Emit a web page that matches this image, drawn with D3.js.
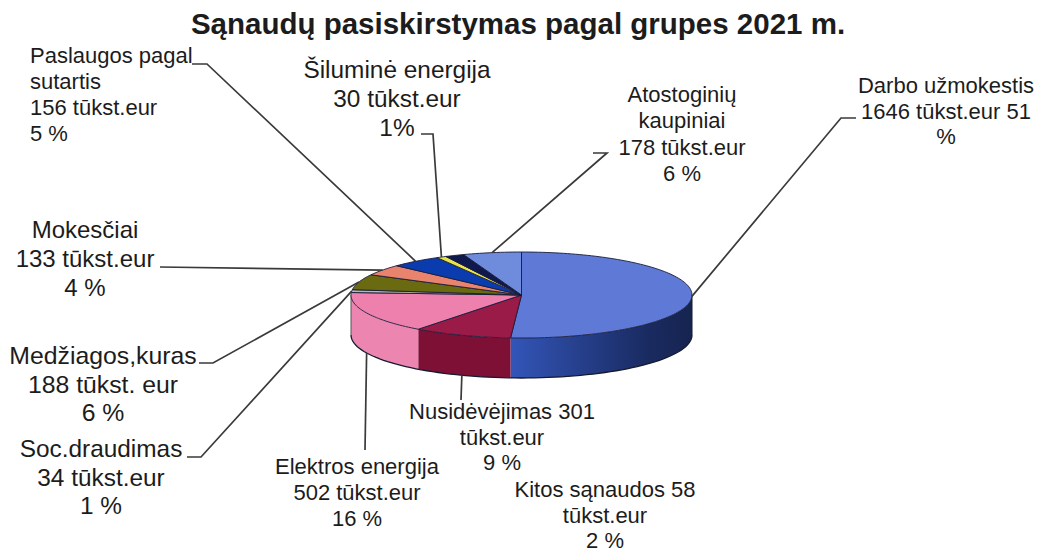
<!DOCTYPE html>
<html><head><meta charset="utf-8">
<script src="https://cdn.jsdelivr.net/npm/d3@7"></script>
<style>html,body{margin:0;padding:0;background:#fff}svg{display:block}text{font-family:"Liberation Sans",Arial,sans-serif;fill:#1c1c1c}</style>
</head><body><svg id="c" width="1048" height="554"></svg>
<script>
const chartTitle = "Sąnaudų pasiskirstymas pagal grupes 2021 m.";
const categories = ["Darbo užmokestis","Nusidėvėjimas","Elektros energija","Soc.draudimas","Medžiagos,kuras","Mokesčiai","Paslaugos pagal sutartis","Šiluminė energija","Kitos sąnaudos","Atostoginių kaupiniai"];
const values = [1646,301,502,34,188,133,156,30,58,178];
const topColors = ["#5f7ad6","#9a1a48","#ee80ae","#b9b9a8","#6a6a10","#e8836e","#0a3cb0","#e6e64a","#10194e","#6f8cdc"];
const wallColors = ["url(#wallBlue)","#7e1036","#ec86b0","#b9b9a8","#55550c","#c86a58","#082c80","#b8b83a","#0a1236","#4a62a8"];
const labelLines = [
 ["Darbo užmokestis","1646 tūkst.eur 51","%"],
 ["Nusidėvėjimas 301","tūkst.eur","9 %"],
 ["Elektros energija","502 tūkst.eur","16 %"],
 ["Soc.draudimas","34 tūkst.eur","1 %"],
 ["Medžiagos,kuras","188 tūkst. eur","6 %"],
 ["Mokesčiai","133 tūkst.eur","4 %"],
 ["Paslaugos pagal","sutartis","156 tūkst.eur","5 %"],
 ["Šiluminė energija","30 tūkst.eur","1%"],
 ["Kitos sąnaudos 58","tūkst.eur","2 %"],
 ["Atostoginių","kaupiniai","178 tūkst.eur","6 %"]
];
// layout: label anchor x, first baseline, line step, font size, text-anchor
const labelLayout = [
 [946,93,25.5,22,"middle"],[502,419,25.5,22,"middle"],[357,474,26,22,"middle"],
 [101,457,28.5,24.4,"middle"],[103,364,28.5,24.8,"middle"],[85,238,29,24,"middle"],
 [30,63,26,22,"start"],[397,78,29,24.4,"middle"],[605,497,25.5,22,"middle"],[682,102,26.3,22,"middle"]
];
// leader elbows after the rim anchor
const leaderPaths = [
 [[841,118],[856,118]],[[461,400]],[[365,450]],
 [[201,457],[187,457]],[[213,363],[199,363]],[[160,267]],
 [[207,64],[192,64]],[[433,134],[421,134]],null,[[607,153],[593,153]]
];
const cx=521.5, cy=295, rx=170.5, ry=43, depth=40;
const svg=d3.select("#c");
const defs=svg.append("defs");
const g=defs.append("linearGradient").attr("id","wallBlue").attr("gradientUnits","userSpaceOnUse")
 .attr("x1",cx-10).attr("x2",cx+rx).attr("y1",0).attr("y2",0);
[[0,"#3355b8"],[0.35,"#27418f"],[0.75,"#1a2b62"],[1,"#16244f"]].forEach(s=>g.append("stop").attr("offset",s[0]).attr("stop-color",s[1]));

svg.append("text").attr("x",518).attr("y",34).attr("text-anchor","middle")
 .attr("font-size",29.5).attr("font-weight","bold").attr("fill","#1a1a1a").text(chartTitle);

const pie=d3.pie().sort(null).value(d=>d);
const arcs=pie(values);
const xs=d3.scaleLinear().domain([-1,1]).range([cx-rx,cx+rx]);
const ys=d3.scaleLinear().domain([-1,1]).range([cy-ry,cy+ry]);
const px=a=>xs(Math.sin(a)), py=a=>ys(-Math.cos(a));
const line=d3.line().x(d=>d[0]).y(d=>d[1]);
const PI=Math.PI;
const wallG=svg.append("g");
arcs.forEach((a,i)=>{
 const s=Math.max(a.startAngle,PI/2), e=Math.min(a.endAngle,3*PI/2);
 if(e<=s) return;
 const t=d3.range(0,41).map(k=>s+(e-s)*k/40);
 const pts=t.map(v=>[px(v),py(v)]).concat(t.slice().reverse().map(v=>[px(v),py(v)+depth]));
 wallG.append("path").attr("d",line(pts)+"Z").attr("fill",wallColors[i]).attr("stroke","none");
});
const front=d3.range(0,81).map(k=>PI/2+PI*k/80);
wallG.append("path").attr("d",line(front.map(v=>[px(v),py(v)+depth]))).attr("fill","none").attr("stroke","#151a30").attr("stroke-width",1.3);
wallG.append("path").attr("d",line([[px(PI/2),py(PI/2)],[px(PI/2),py(PI/2)+depth]])).attr("stroke","#151a30").attr("stroke-width",1);
wallG.append("path").attr("d",line([[px(3*PI/2),py(3*PI/2)],[px(3*PI/2),py(3*PI/2)+depth]])).attr("stroke","#555").attr("stroke-width",1);
const topG=svg.append("g");
arcs.forEach((a,i)=>{
 const n=Math.max(4,Math.ceil((a.endAngle-a.startAngle)*40));
 const pts=[[cx,cy]].concat(d3.range(0,n+1).map(k=>{const v=a.startAngle+(a.endAngle-a.startAngle)*k/n;return [px(v),py(v)];}));
 topG.append("path").attr("d",line(pts)+"Z").attr("fill",topColors[i]).attr("stroke","#1a1c3a").attr("stroke-width",0.9).attr("stroke-linejoin","round");
});
const lg=svg.append("g").attr("fill","none").attr("stroke","#3a3a3a").attr("stroke-width",1.7);
arcs.forEach((a,i)=>{
 if(!leaderPaths[i]) return;
 const m=(a.startAngle+a.endAngle)/2;
 const onFront=Math.cos(m)<-0.2;
 const start=[px(m),py(m)+(onFront?depth:0)];
 lg.append("path").attr("d",line([start].concat(leaderPaths[i])));
});
labelLines.forEach((ls,i)=>{
 const [x,y,dy,fs,anc]=labelLayout[i];
 const t=svg.append("text").attr("font-size",fs).attr("text-anchor",anc);
 ls.forEach((s,k)=>t.append("tspan").attr("x",x).attr("y",y+k*dy).text(s));
});
</script></body></html>
